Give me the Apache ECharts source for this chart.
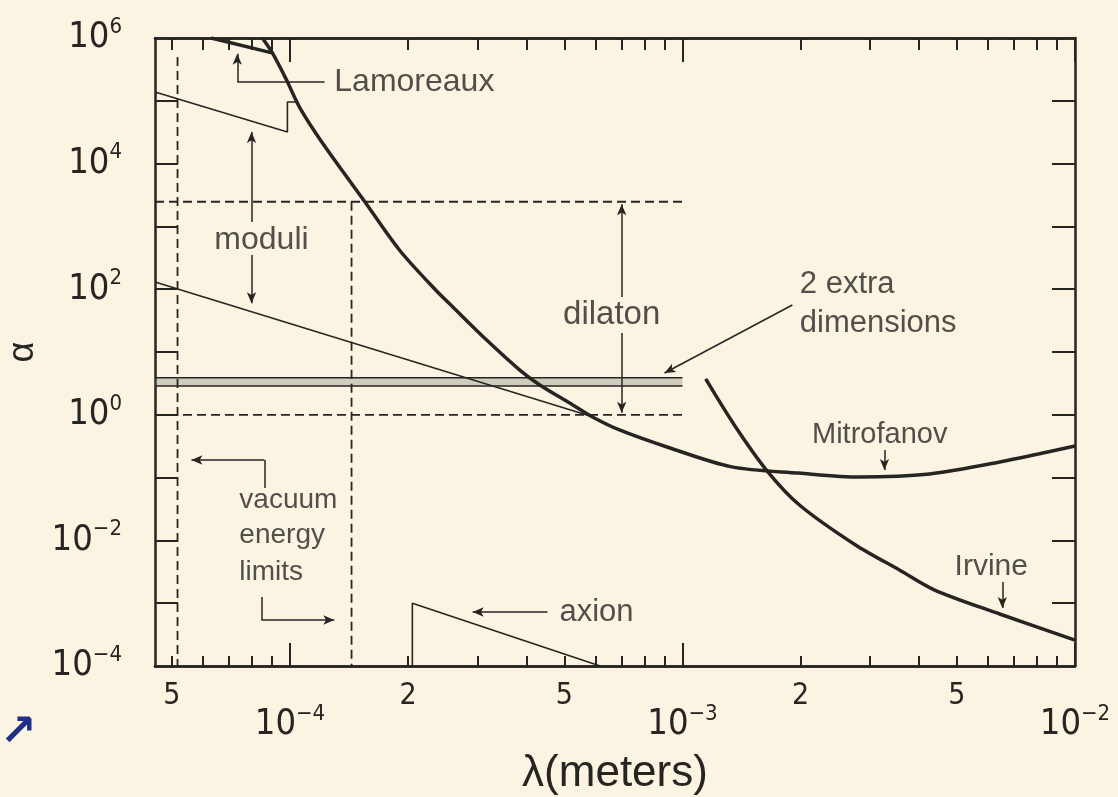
<!DOCTYPE html>
<html><head><meta charset="utf-8">
<script src="https://cdn.jsdelivr.net/npm/echarts@6/dist/echarts.min.js"></script>
<style>html,body{margin:0;padding:0;background:#fcf4e3;} #c{width:1118px;height:797px;}</style>
</head><body><div id="c"></div>
<script>
// ---------- axis ranges & ticks ----------
const X_MIN = 4.53e-5, X_MAX = 1e-2, Y_MIN = 1e-4, Y_MAX = 1e6;
const xMajorTicks = [1e-4, 1e-3, 1e-2];
const xMinorTicks = [5e-5, 6e-5, 7e-5, 8e-5, 9e-5,
  2e-4, 3e-4, 4e-4, 5e-4, 6e-4, 7e-4, 8e-4, 9e-4,
  2e-3, 3e-3, 4e-3, 5e-3, 6e-3, 7e-3, 8e-3, 9e-3];
const xDigitLabels = [5e-5, 2e-4, 5e-4, 2e-3, 5e-3];
const xPowerLabels = [1e-4, 1e-3, 1e-2];
const yTicks = [1e-3, 1e-2, 1e-1, 1, 10, 100, 1e3, 1e4, 1e5];
const yLabels = [1e-4, 1e-2, 1, 1e2, 1e4, 1e6];

// ---------- curves (lambda in m, alpha) ----------
const mainX = [8.5e-5, 9.02e-5, 9.80e-5, 1.057e-4, 1.21e-4, 1.54e-4, 1.90e-4, 2.35e-4, 2.60e-4, 3.17e-4,
  3.85e-4, 4.33e-4, 5.16e-4, 5.90e-4, 6.91e-4, 9.13e-4, 1.336e-3, 1.98e-3, 2.82e-3, 4.26e-3, 6.43e-3, 1.0e-2];
const mainY = [1.0e6, 5.77e5, 2.14e5, 7.96e4, 2.13e4, 2630, 421, 97, 52, 15.5,
  5.16, 2.99, 1.54, 0.922, 0.573, 0.307, 0.148, 0.118, 0.102, 0.114, 0.177, 0.318];
const irvineX = [1.146e-3, 1.355e-3, 1.636e-3, 1.986e-3, 2.76e-3, 3.57e-3, 4.39e-3, 6.43e-3, 1.0e-2];
const irvineY = [3.72, 0.689, 0.132, 0.0366, 8.45e-3, 3.38e-3, 1.62e-3, 6.73e-4, 2.59e-4];
const lamoreauxX = [6.30e-5, 9.0e-5];
const lamoreauxY = [1.0e6, 5.8e5];
const moduliUpperX = [4.53e-5, 9.85e-5, 9.85e-5, 1.045e-4];
const moduliUpperY = [1.38e5, 3.18e4, 9.57e4, 9.57e4];
const moduliLowerX = [4.53e-5, 5.90e-4];
const moduliLowerY = [130, 0.93];
const axionX = [2.05e-4, 2.05e-4, 6.17e-4];
const axionY = [1e-4, 1.0e-3, 1e-4];
const extraDimX = [4.53e-5, 1.0e-3];
const extraDimTop = 3.90, extraDimBottom = 2.88;
const dilatonX = [4.53e-5, 1.0e-3];
const dilatonUpper = 2470, dilatonLower = 1.0;
const vacuumLeftX = 5.17e-5, vacuumLeftY = [4.98e5, 1e-4];
const vacuumRightX = 1.435e-4, vacuumRightY = [2470, 1e-4];

// ---------- annotations: [x1, y1, x2, y2, arrowAtEnd] ----------
const arrowLines = [
  [7.34e-5, 1.99e5, 7.34e-5, 5.6e5, true],
  [7.34e-5, 1.99e5, 1.225e-4, 1.99e5, false],
  [7.98e-5, 1175, 7.98e-5, 3.2e4, true],
  [7.98e-5, 351, 7.98e-5, 60, true],
  [7.0e-4, 75.2, 7.0e-4, 2250, true],
  [7.0e-4, 20.1, 7.0e-4, 1.08, true],
  [1.905e-3, 56, 9.0e-4, 4.63, true],
  [3.27e-3, 0.275, 3.27e-3, 0.132, true],
  [6.53e-3, 2.18e-3, 6.53e-3, 8.4e-4, true],
  [4.53e-4, 7.24e-4, 2.92e-4, 7.24e-4, true],
  [8.61e-5, 0.0682, 8.61e-5, 0.1905, false],
  [8.61e-5, 0.1905, 5.61e-5, 0.1905, true],
  [8.46e-5, 1.256e-3, 8.46e-5, 5.4e-4, false],
  [8.46e-5, 5.4e-4, 1.297e-4, 5.4e-4, true]
];
const textLabels = [
  ['Lamoreaux', 1.297e-4, 1.99e5, 'left'],
  ['moduli', 8.46e-5, 607, 'center'],
  ['dilaton', 6.6e-4, 38.8, 'center'],
  ['2 extra', 1.99e-3, 117, 'left'],
  ['dimensions', 1.99e-3, 29, 'left'],
  ['Mitrofanov', 3.18e-3, 0.477, 'center'],
  ['Irvine', 6.12e-3, 3.77e-3, 'center'],
  ['axion', 4.86e-4, 7.24e-4, 'left'],
  ['vacuum', 7.43e-5, 0.0440, 'left'],
  ['energy', 7.43e-5, 0.0122, 'left'],
  ['limits', 7.43e-5, 3.14e-3, 'left']
];

// ---------- styles ----------
const INK = '#262522';
const FONT_NUM = "'Liberation Sans Narrow','DejaVu Sans Condensed','Liberation Sans',sans-serif";
const FONT_TXT = "'Liberation Sans','DejaVu Sans',sans-serif";
const labelFontSize = { 'Lamoreaux': 32, 'moduli': 32, 'dilaton': 33, '2 extra': 31, 'dimensions': 31,
  'Mitrofanov': 29, 'Irvine': 30, 'axion': 31, 'vacuum': 28, 'energy': 28, 'limits': 28 };
function zip(xs, ys) { return xs.map((x, i) => [x, ys[i]]); }
function expOf(v) { return Math.round(Math.log10(v)); }
function leadDigit(v) { const e = Math.floor(Math.log10(v) + 1e-9); return Math.round(v / Math.pow(10, e)); }
function supLabel(v) { const e = expOf(v); return '{b|10}{s|' + (e < 0 ? '\u2212' + (-e) : e) + '}'; }
const supRich = {
  b: { fontSize: 36, lineHeight: 44, fontFamily: FONT_NUM, color: INK },
  s: { fontSize: 22, lineHeight: 22, verticalAlign: 'top', fontFamily: FONT_NUM, color: INK }
};
const axisLineStyle = { show: true, onZero: false, lineStyle: { color: INK, width: 2.5 } };
function tick(values, len) { return { show: true, inside: true, length: len, customValues: values, lineStyle: { color: INK, width: 2 } }; }
const baseX = { type: 'log', logBase: 10, min: X_MIN, max: X_MAX, gridIndex: 0, splitLine: { show: false }, axisLine: axisLineStyle };
const baseY = { type: 'log', logBase: 10, min: Y_MIN, max: Y_MAX, gridIndex: 0, splitLine: { show: false }, axisLine: axisLineStyle };

function lineSeries(data, width, dashed, smooth) {
  return { type: 'line', xAxisIndex: 0, yAxisIndex: 0, data: data, symbol: 'none', silent: true,
    smooth: smooth ? 0.3 : false,
    lineStyle: { color: INK, width: width, type: dashed ? [9, 5] : 'solid' } };
}

const series = [
  lineSeries(zip(mainX, mainY), 3.5, false, true),
  lineSeries(zip(irvineX, irvineY), 3.5, false, true),
  lineSeries(zip(lamoreauxX, lamoreauxY), 3.5, false, false),
  lineSeries(zip(moduliUpperX, moduliUpperY), 1.6, false, false),
  lineSeries(zip(moduliLowerX, moduliLowerY), 1.6, false, false),
  lineSeries(zip(axionX, axionY), 1.6, false, false),
  Object.assign(lineSeries(zip(extraDimX, [extraDimTop, extraDimTop]), 1.6, false, false), {
    markArea: { silent: true, itemStyle: { color: 'rgba(110,115,100,0.3)' },
      data: [[{ coord: [extraDimX[0], extraDimBottom] }, { coord: [extraDimX[1], extraDimTop] }]] }
  }),
  lineSeries(zip(extraDimX, [extraDimBottom, extraDimBottom]), 1.6, false, false),
  lineSeries(zip(dilatonX, [dilatonUpper, dilatonUpper]), 1.8, true, false),
  lineSeries(zip(dilatonX, [dilatonLower, dilatonLower]), 1.8, true, false),
  lineSeries(zip([vacuumLeftX, vacuumLeftX], vacuumLeftY), 1.8, true, false),
  lineSeries(zip([vacuumRightX, vacuumRightX], vacuumRightY), 1.8, true, false),
  { type: 'line', data: [], xAxisIndex: 0, yAxisIndex: 0, symbol: 'none',
    markLine: { silent: true, animation: false, label: { show: false },
      lineStyle: { color: INK, width: 1.5, type: 'solid' },
      data: arrowLines.map(a => [
        { coord: [a[0], a[1]], symbol: 'none' },
        { coord: [a[2], a[3]], symbol: a[4] ? 'arrow' : 'none', symbolSize: [7, 11] }
      ]) } },
  { type: 'scatter', xAxisIndex: 0, yAxisIndex: 0, symbolSize: 0, silent: true,
    data: textLabels.map(t => ({ value: [t[1], t[2]],
      label: { show: true, formatter: t[0], position: t[3] === 'left' ? 'right' : 'inside', distance: 0,
        fontSize: labelFontSize[t[0]], fontFamily: FONT_TXT, color: INK } })) }
];

const option = {
  backgroundColor: '#fcf4e3',
  animation: false,
  grid: { left: 155, right: 43, top: 38, bottom: 131, containLabel: false, outerBoundsMode: 'none' },
  xAxis: [
    Object.assign({}, baseX, { position: 'bottom', axisTick: tick(xMinorTicks, 10),
      axisLabel: { show: true, customValues: xDigitLabels, formatter: v => String(leadDigit(v)), margin: 15,
        fontSize: 30, fontFamily: FONT_NUM, color: INK } }),
    Object.assign({}, baseX, { position: 'bottom', axisTick: tick(xMajorTicks, 23),
      axisLabel: { show: true, customValues: xPowerLabels, formatter: supLabel, rich: supRich, margin: 37 },
      name: '\u03bb(meters)', nameLocation: 'middle', nameGap: 86,
      nameTextStyle: { fontSize: 44, fontFamily: FONT_TXT, color: INK } }),
    Object.assign({}, baseX, { position: 'top', axisTick: tick(xMinorTicks, 12), axisLabel: { show: false } }),
    Object.assign({}, baseX, { position: 'top', axisTick: tick(xMajorTicks, 24), axisLabel: { show: false } })
  ],
  yAxis: [
    Object.assign({}, baseY, { position: 'left', axisTick: tick(yTicks, 23),
      axisLabel: { show: true, customValues: yLabels, formatter: supLabel, rich: supRich, margin: 33 },
      name: '\u03b1', nameLocation: 'middle', nameGap: 112,
      nameTextStyle: { fontSize: 36, fontFamily: FONT_TXT, color: INK } }),
    Object.assign({}, baseY, { position: 'right', axisTick: tick(yTicks, 23), axisLabel: { show: false } })
  ],
  graphic: [
    { type: 'text', left: 0, top: 712, style: { text: '\u2197', fontSize: 44, fontWeight: 'bold',
      fontFamily: "'DejaVu Sans',sans-serif", fill: '#1f2f86' } }
  ],
  series: series
};
const chart = echarts.init(document.getElementById('c'));
chart.setOption(option);
</script></body></html>
